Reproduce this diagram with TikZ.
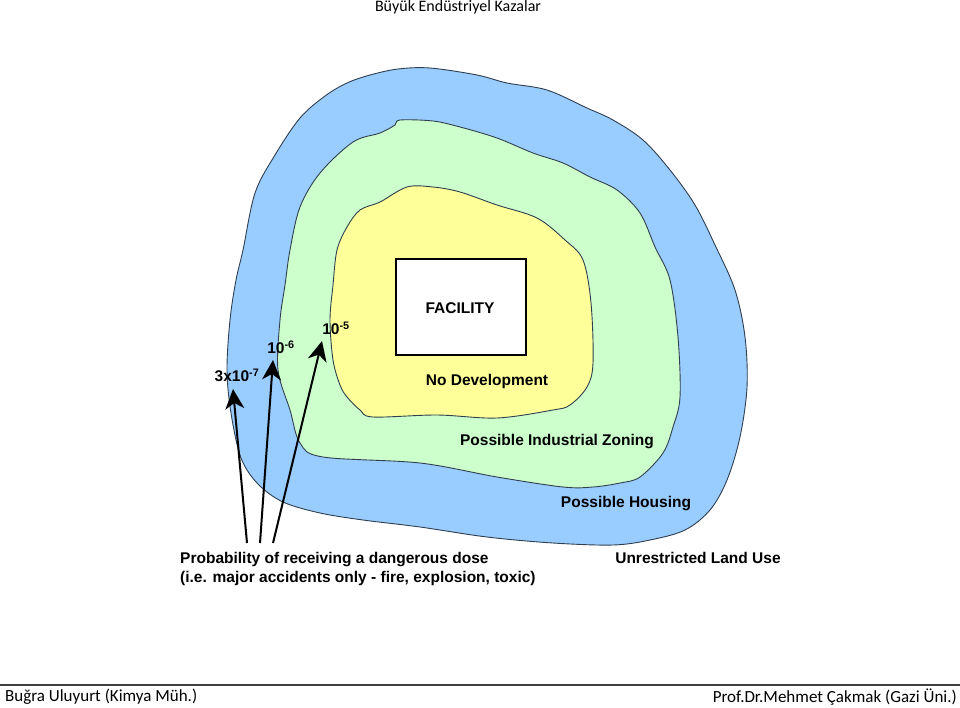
\documentclass[tikz,border=0pt]{standalone}
\usepackage{fontspec}
\setmainfont{Liberation Sans}
\newfontfamily\calibri{Carlito}
\usetikzlibrary{arrows.meta}
\definecolor{zoneblue}{HTML}{99CCFF}
\definecolor{zonegreen}{HTML}{CCFFCC}
\definecolor{zoneyellow}{HTML}{FFFF99}
\definecolor{edge}{HTML}{2F3F4F}
\tikzstyle{zone}=[draw=edge, line width=0.9pt]
\tikzstyle{lbl}=[font=\fontsize{15.5}{18}\selectfont\bfseries, inner sep=0pt]
\tikzstyle{slide}=[font=\calibri\fontsize{17}{20}\selectfont, inner sep=0pt]
\tikzstyle{arrow}=[draw, line width=2pt, -{Stealth[length=20pt,width=19pt,inset=6pt]}]

\begin{document}
\begin{tikzpicture}[x=1pt, y=-1pt]
\useasboundingbox (0,0) rectangle (960,707);

% zones
\draw [zone, fill=zoneblue] plot [smooth cycle, tension=0.55] coordinates {
 (243,250) (255,193) (275,155) (300,118) (325,96) (347,83) (370,75) (398,69) (430,68)
 (477,75) (507,83) (547,90) (587,108) (613,120) (643,140) (670,170) (695,205)
 (715,245) (735,290) (745,337) (747,387) (740,437) (727,480) (710,510) (685,530)
 (650,540) (613,545) (553,543) (487,537) (420,527) (363,520) (320,513) (283,502)
 (258,484) (241,458) (231,413) (227,370) (230,320) (236,280)};
\draw [zone, fill=zonegreen] plot [smooth cycle, tension=0.55] coordinates {
 (290,250) (300,207) (320,173) (353,142) (380,133) (395,125) (400,120) (433,121)
 (460,127) (497,138) (533,153) (563,163) (590,177) (617,190) (640,213) (655,247)
 (670,280) (678,337) (680,397) (673,427) (663,453) (640,477) (620,483) (593,487)
 (563,487) (497,477) (420,463) (323,457) (300,443) (290,410) (278,370) (280,320)
 (285,285)};
\draw [zone, fill=zoneyellow] plot [smooth cycle, tension=0.55] coordinates {
 (337,250) (347,227) (360,210) (380,202) (407,187) (433,187) (460,192) (497,205)
 (537,218) (565,240) (583,260) (591,303) (593,363) (587,387) (570,405) (553,410)
 (497,418) (437,415) (373,417) (360,410) (347,397) (340,385) (333,360) (330,320)
 (333,285)};

% facility
\node (facility) [draw, line width=1.5pt, fill=white, minimum width=130pt, minimum height=96pt] at (461,307) {};
\node (faclbl) [lbl] at (460,308) {FACILITY};
\node (nodev) [lbl] at (487,381) {No Development};
\node (indzone) [lbl] at (557,442) {Possible Industrial Zoning};
\node (housing) [lbl] at (626,504) {Possible Housing};
\node (unres) [lbl] at (698,558) {Unrestricted Land Use};

% probability labels
\node (p5) [lbl] at (336,328) {10\textsuperscript{-5}};
\node (p6) [lbl] at (281,347) {10\textsuperscript{-6}};
\node (p7) [lbl] at (237,375) {3x10\textsuperscript{-7}};
\node (prob) [lbl, anchor=north west, align=left, font=\fontsize{15.5}{19}\selectfont\bfseries] at (180,552)
 {Probability of receiving a dangerous dose\\(i.e. major accidents only - fire, explosion, toxic)};

\coordinate (t7) at (247,543);
\coordinate (t6) at (260,543);
\coordinate (t5) at (273,543);
\coordinate (h7) at (233,389);
\coordinate (h6) at (273,360);
\coordinate (h5) at (322,341);

\draw [arrow] (t7) -- (h7);
\draw [arrow] (t6) -- (h6);
\draw [arrow] (t5) -- (h5);

% slide header and footer
\node (title) [slide, font=\calibri\fontsize{16}{18}\selectfont] at (458,7) {Büyük Endüstriyel Kazalar};
\coordinate (rulel) at (0,685);
\coordinate (ruler) at (960,685);
\draw [draw=black!75, line width=1.5pt] (rulel) -- (ruler);
\node (author) [slide, anchor=west] at (5,697) {Buğra Uluyurt (Kimya Müh.)};
\node (prof) [slide, anchor=east] at (957,697) {Prof.Dr.Mehmet Çakmak (Gazi Üni.)};

\end{tikzpicture}
\end{document}
